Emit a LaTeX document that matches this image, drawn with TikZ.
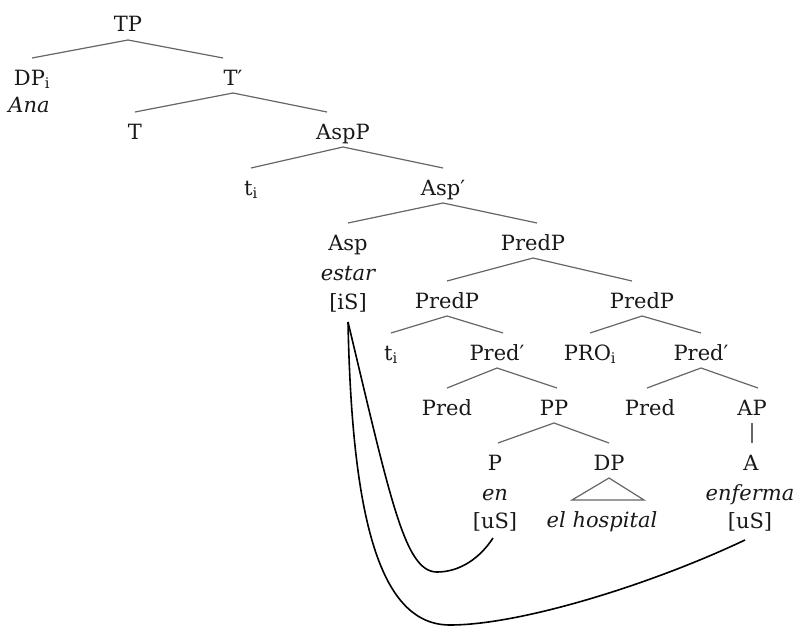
\documentclass[tikz,border=0pt]{standalone}
\usepackage{fontspec}
\setmainfont{DejaVu Serif}
\usetikzlibrary{calc}

\begin{document}
\begin{tikzpicture}[
    x=1pt,
    y=-1pt,
    font=\fontsize{21}{26}\selectfont,
    every node/.style={anchor=base, text height=25pt, text depth=6pt,
                       inner sep=0pt, outer ysep=2pt, text=black!90},
    branch/.style={draw=black!60, line width=1.2pt},
    agree/.style={draw=black, line width=1.6pt},
]
    \useasboundingbox (0,0) rectangle (795,626);

    % spine
    \node (tp)       at (128,32)  {TP};
    \node (dpi)      at (32,85)   {DP\textsubscript{i}};
    \node (ana)      at (29,112)  {\itshape Ana};
    \node (tbar)     at (233,85)  {T′};
    \node (t)        at (135,139) {T};
    \node (aspp)     at (343,139) {AspP};
    \node (ti)       at (251,195) {t\textsubscript{i}};
    \node (aspbar)   at (443,195) {Asp′};
    \node (asp)      at (348,250) {Asp};
    \node (estar)    at (348,280) {\itshape estar};
    \node (is)       at (348,309) {[iS]};
    \node (predp)    at (533,250) {PredP};

    % small clauses
    \node (predpl)   at (447,308) {PredP};
    \node (predpr)   at (642,308) {PredP};
    \node (tii)      at (391,360) {t\textsubscript{i}};
    \node (predbarl) at (497,360) {Pred′};
    \node (pro)      at (590,360) {PRO\textsubscript{i}};
    \node (predbarr) at (701,360) {Pred′};
    \node (predl)    at (447,415) {Pred};
    \node (pp)       at (554,415) {PP};
    \node (predr)    at (650,415) {Pred};
    \node (ap)       at (752,415) {AP};
    \node (p)        at (495,470) {P};
    \node (dp)       at (609,470) {DP};
    \node (a)        at (751,470) {A};
    \node (en)       at (495,500) {\itshape en};
    \node (enferma)  at (750,500) {\itshape enferma};
    \node (usl)      at (495,528) {[uS]};
    \node (hosp)     at (602,527) {\itshape el hospital};
    \node (usr)      at (750,528) {[uS]};

    \path[branch]
        (tp.south)       edge (dpi.north)
        (tp.south)       edge ([xshift=-10pt]tbar.north)
        (tbar.south)     edge (t.north)
        (tbar.south)     edge ([xshift=-16pt]aspp.north)
        (aspp.south)     edge (ti.north)
        (aspp.south)     edge (aspbar.north)
        (aspbar.south)   edge (asp.north)
        (aspbar.south)   edge ([xshift=4pt]predp.north)
        (predp.south)    edge (predpl.north)
        (predp.south)    edge ([xshift=-10pt]predpr.north)
        (predpl.south)   edge (tii.north)
        (predpl.south)   edge ([xshift=6pt]predbarl.north)
        (predpr.south)   edge (pro.north)
        (predpr.south)   edge (predbarr.north)
        (predbarl.south) edge (predl.north)
        (predbarl.south) edge ([xshift=3pt]pp.north)
        (predbarr.south) edge ([xshift=-3pt]predr.north)
        (predbarr.south) edge ([xshift=6pt]ap.north)
        (pp.south)       edge ([xshift=3pt]p.north)
        (pp.south)       edge (dp.north)
        (ap.south)       edge (ap.south |- a.north)
    ;

    % roof over the DP
    \draw[branch] (dp.south)
        -- ($(dp.south |- hosp.north)+(-37,0)$)
        -- ($(dp.south |- hosp.north)+(35,0)$) -- cycle;

    % agreement lines from [iS]
    \draw[agree] ($(is.south)+(0,5)$)
        .. controls (352,520) and (380,625) .. (450,625)
        .. controls (520,625) and (650,585) .. ($(usr.south)+(-5,4)$);
    \draw[agree] ($(is.south)+(0,5)$)
        .. controls (391,502) and (405,572) .. (437,572)
        .. controls (460,572) and (480,558) .. ($(usl.south)+(-2,2)$);
\end{tikzpicture}
\end{document}
